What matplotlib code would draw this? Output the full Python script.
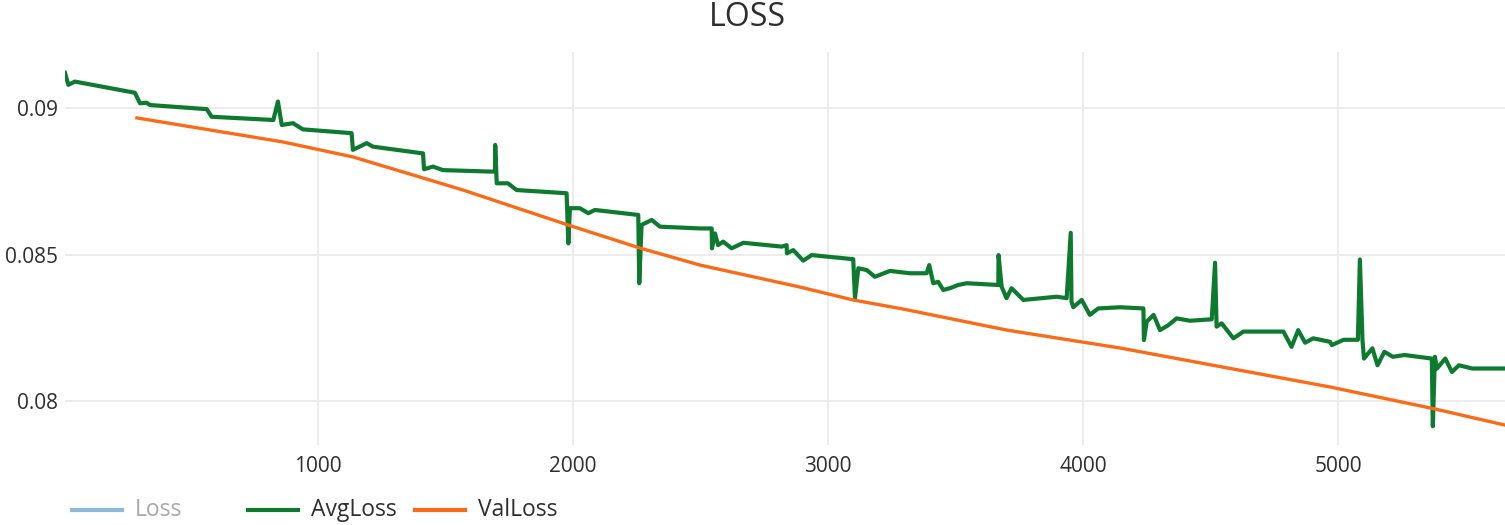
import matplotlib
matplotlib.use("Agg")
import matplotlib.pyplot as plt
from matplotlib.lines import Line2D

plt.rcParams['font.family'] = ['Open Sans', 'DejaVu Sans']

# AvgLoss
avg_x = [8, 21, 47, 282, 302, 328, 341, 564, 583, 825, 843, 858, 902, 941,
         1132, 1137, 1191, 1216, 1412, 1416, 1451, 1490, 1675, 1694, 1695, 1701,
         1745, 1779, 1975, 1982, 1988, 2027, 2060, 2086, 2256, 2260, 2269, 2309,
         2341, 2498, 2544, 2545, 2557, 2569, 2589, 2622, 2668, 2818, 2838, 2839,
         2864, 2903, 2936, 3099, 3106, 3119, 3152, 3184, 3243, 3322, 3387, 3397,
         3413, 3432, 3452, 3478, 3511, 3544, 3668, 3669, 3681, 3700, 3720, 3766,
         3897, 3936, 3952, 3955, 3962, 3995, 4027, 4060, 4145, 4237, 4239, 4250,
         4277, 4302, 4335, 4367, 4420, 4505, 4518, 4524, 4544, 4590, 4629, 4786,
         4818, 4844, 4871, 4903, 4969, 4976, 5022, 5078, 5086, 5096, 5102, 5135,
         5155, 5182, 5215, 5261, 5368, 5372, 5380, 5388, 5421, 5447, 5474, 5527,
         5660]
avg_y = [0.09120, 0.09079, 0.09090, 0.09052, 0.09016, 0.09018, 0.09010, 0.08996,
         0.08970, 0.08959, 0.09022, 0.08942, 0.08948, 0.08927, 0.08914, 0.08857,
         0.08880, 0.08868, 0.08845, 0.08791, 0.08800, 0.08788, 0.08783, 0.08783,
         0.08874, 0.08743, 0.08743, 0.08720, 0.08709, 0.08538, 0.08658, 0.08658,
         0.08641, 0.08652, 0.08635, 0.08402, 0.08601, 0.08618, 0.08595, 0.08589,
         0.08589, 0.08521, 0.08572, 0.08532, 0.08544, 0.08521, 0.08540, 0.08527,
         0.08532, 0.08504, 0.08515, 0.08479, 0.08498, 0.08484, 0.08351, 0.08453,
         0.08447, 0.08424, 0.08444, 0.08436, 0.08436, 0.08464, 0.08402, 0.08407,
         0.08379, 0.08385, 0.08396, 0.08402, 0.08396, 0.08498, 0.08390, 0.08351,
         0.08385, 0.08345, 0.08356, 0.08351, 0.08574, 0.08339, 0.08320, 0.08345,
         0.08294, 0.08316, 0.08320, 0.08316, 0.08208, 0.08271, 0.08294, 0.08242,
         0.08259, 0.08282, 0.08274, 0.08279, 0.08472, 0.08254, 0.08265, 0.08214,
         0.08237, 0.08237, 0.08185, 0.08242, 0.08199, 0.08214, 0.08202, 0.08191,
         0.08209, 0.08209, 0.08483, 0.08209, 0.08145, 0.08180, 0.08122, 0.08168,
         0.08151, 0.08157, 0.08145, 0.07914, 0.08151, 0.08111, 0.08145, 0.08099,
         0.08122, 0.08111, 0.08111]

# ValLoss
val_x = [290, 863, 1137, 1569, 1980, 2263, 2498, 2890, 3098, 3294, 3702, 4145,
         4969, 5380, 5660]
val_y = [0.08966, 0.08884, 0.08833, 0.08720, 0.08601, 0.08522, 0.08464, 0.08389,
         0.08345, 0.08314, 0.08242, 0.08181, 0.08048, 0.07973, 0.07917]

x_ticks = [1000, 2000, 3000, 4000, 5000]
y_ticks = [0.08, 0.085, 0.09]
y_labels = ["0.08", "0.085", "0.09"]

color_loss = '#8fbbdb'
color_avg = '#0e7a30'
color_val = '#fb6a16'

fig = plt.figure(figsize=(15.05, 5.25), dpi=100)
ax = fig.add_axes([65 / 1505, 1 - 445 / 525, 1 - 65 / 1505, (445 - 52) / 525])

ax.plot(avg_x, avg_y, color=color_avg, linewidth=3.0, solid_joinstyle='round')
ax.plot(val_x, val_y, color=color_val, linewidth=2.4)

ax.set_xlim(8, 5655)
ax.set_ylim(0.0785, 0.09191)
ax.set_xticks(x_ticks)
ax.set_yticks(y_ticks)
ax.set_yticklabels(y_labels)
ax.grid(True, color='#ebebeb', linewidth=1.3)
ax.set_axisbelow(True)
for s in ax.spines.values():
    s.set_visible(False)
ax.tick_params(length=0, labelsize=15, colors='#2e2e2e', pad=8)
ax.tick_params(axis='y', pad=5)

fig.text(747 / 1505, 1 - 17 / 525, "LOSS", ha='center', va='center',
         fontsize=23, color='#2e2e2e')

# leyenda (estilo plotly, horizontal abajo)
leyenda = [("Loss", color_loss, 72, '#a8a8a8'),
           ("AvgLoss", color_avg, 248, '#2e2e2e'),
           ("ValLoss", color_val, 415, '#2e2e2e')]
y_leg = 1 - 510 / 525
for nombre, col, x0, col_txt in leyenda:
    fig.add_artist(Line2D([x0 / 1505, (x0 + 50) / 1505], [y_leg, y_leg],
                          color=col, linewidth=3.0))
    fig.text((x0 + 63) / 1505, y_leg, nombre, ha='left', va='center',
             fontsize=16.5, color=col_txt)

fig.savefig("out.png", dpi=100)
